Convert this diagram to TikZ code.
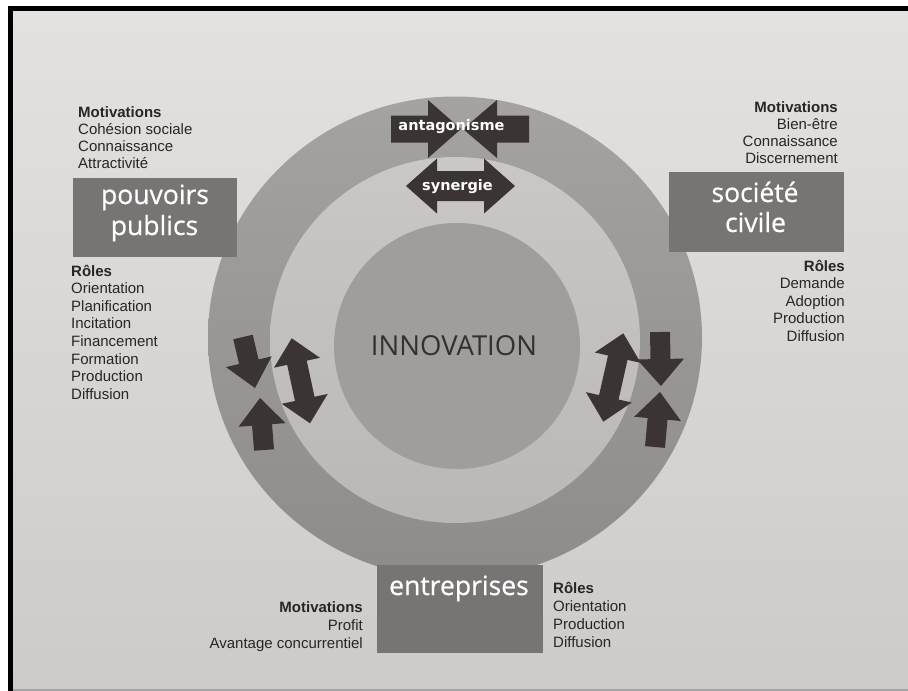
\documentclass[tikz,border=0pt]{standalone}
\usepackage{fontspec}
\setmainfont{Liberation Sans}
\newfontfamily\boxfont[FakeBold=0.6]{Open Sans}
\newfontfamily\innofont{Open Sans}
\newfontfamily\arrfont{DejaVu Sans}
\usetikzlibrary{calc}
\definecolor{bgtop}{HTML}{E4E2DF}
\definecolor{bgbot}{HTML}{CDCBC8}
\definecolor{ringout}{HTML}{A5A3A0}
\definecolor{ringoutb}{HTML}{8E8C89}
\definecolor{ringmid}{HTML}{CAC8C5}
\definecolor{ringmidb}{HTML}{BAB8B5}
\definecolor{corec}{HTML}{A09E9B}
\definecolor{boxc}{HTML}{777573}
\definecolor{arrc}{HTML}{3A3533}
\definecolor{txtc}{HTML}{262626}
\newcommand\oneArr[5]{% tail, tip, shaft half, head half, head length
  \path ($(#2)!#5!(#1)$) coordinate (tmpB);
  \fill[arrc] ($(#1)!#3!90:(#2)$) -- ($(tmpB)!#3!90:(#2)$) -- ($(tmpB)!#4!90:(#2)$) -- (#2)
    -- ($(tmpB)!#4!-90:(#2)$) -- ($(tmpB)!#3!-90:(#2)$) -- ($(#1)!#3!-90:(#2)$) -- cycle;}
\newcommand\twoArr[5]{% end1, end2, shaft half, head half, head length
  \path ($(#1)!#5!(#2)$) coordinate (tmpA) ($(#2)!#5!(#1)$) coordinate (tmpB);
  \fill[arrc] (#1) -- ($(tmpA)!#4!90:(#2)$) -- ($(tmpA)!#3!90:(#2)$) -- ($(tmpB)!#3!90:(#2)$)
    -- ($(tmpB)!#4!90:(#2)$) -- (#2) -- ($(tmpB)!#4!-90:(#2)$) -- ($(tmpB)!#3!-90:(#2)$)
    -- ($(tmpA)!#3!-90:(#2)$) -- ($(tmpA)!#4!-90:(#2)$) -- cycle;}
\tikzset{
  lbl/.style={inner sep=0pt, text=txtc, font=\fontsize{15}{17}\selectfont},
  boxn/.style={fill=boxc, draw=none, inner sep=0pt},
  boxt/.style={inner sep=0pt, text=white, font=\boxfont\fontsize{26.5}{31}\selectfont},
  arrt/.style={inner sep=0pt, text=white, font=\arrfont\bfseries\fontsize{14.5}{17}\selectfont},
}
\begin{document}
\begin{tikzpicture}[x=1pt,y=-1pt]
\useasboundingbox (0,0) rectangle (908,691);
\fill[white] (0,0) rectangle (908,691);
\shade[top color=bgtop, bottom color=bgbot] (12,10) rectangle (908,689);
\fill[gray!70] (12,689) rectangle (908,691);
\draw[line width=5pt, black] (10.5,691) -- (10.5,8) -- (908,8);
% rings
\shade[top color=ringout, bottom color=ringoutb] (455,337.5) ellipse [x radius=247pt, y radius=241pt];
\shade[top color=ringmid, bottom color=ringmidb] (455,340) ellipse [x radius=185pt, y radius=183pt];
\fill[corec] (457,346) circle [radius=123pt];
\node[inner sep=0pt, text=txtc!95, font=\innofont\fontsize{27.5}{30}\selectfont, anchor=base] (innov) at (454,355) {INNOVATION};
% boxes
\node[boxn, minimum width=164, minimum height=79] (ppbox) at (155,217.5) {};
\node[boxt, anchor=base] (pp1) at (155,204) {pouvoirs};
\node[boxt, anchor=base] (pp2) at (154.5,235) {publics};
\node[boxn, minimum width=175, minimum height=80] (scbox) at (756.5,212) {};
\node[boxt, anchor=base] (sc1) at (755,202) {société};
\node[boxt, anchor=base] (sc2) at (755.5,232) {civile};
\node[boxn, minimum width=166, minimum height=88] (enbox) at (460,609) {};
\node[boxt, anchor=base] (en1) at (459,595) {entreprises};
% top arrows
\coordinate (agL) at (391,129);
\coordinate (agLt) at (461,129);
\coordinate (agR) at (529,129);
\coordinate (agRt) at (463,129);
\oneArr{agL}{agLt}{13.5pt}{29pt}{33pt}
\oneArr{agR}{agRt}{13.5pt}{29pt}{34pt}
\node[arrt] (antag) at (451.5,127) {antagonisme};
\coordinate (syA) at (406,186);
\coordinate (syB) at (515,186);
\twoArr{syA}{syB}{15pt}{27.5pt}{31pt}
\node[arrt] (syn) at (457.5,187) {synergie};
% left arrows
\coordinate (a1t) at (243,337); \coordinate (a1h) at (255,388);
\coordinate (a2t) at (264,450); \coordinate (a2h) at (260,398);
\coordinate (a3a) at (291.7,338.3); \coordinate (a3b) at (310,423.3);
\oneArr{a1t}{a1h}{10pt}{23.5pt}{27pt}
\oneArr{a2t}{a2h}{10pt}{23.5pt}{27pt}
\twoArr{a3a}{a3b}{10pt}{23.5pt}{25pt}
% right arrows
\coordinate (b1a) at (623.3,333.3); \coordinate (b1b) at (603.3,421.7);
\coordinate (b2t) at (660,332); \coordinate (b2h) at (661,386);
\coordinate (b3t) at (655,447); \coordinate (b3h) at (660,392);
\twoArr{b1a}{b1b}{10pt}{23.5pt}{25pt}
\oneArr{b2t}{b2h}{10pt}{23.5pt}{27pt}
\oneArr{b3t}{b3h}{10pt}{23.5pt}{27pt}
% text blocks
\foreach \t [count=\i] in {\textbf{Motivations}, Cohésion sociale, Connaissance, Attractivité}
  \node[lbl, anchor=base west] (plm\i) at (78,{117+17*(\i-1)}) {\t};
\foreach \t [count=\i] in {\textbf{Rôles}, Orientation, Planification, Incitation, Financement, Formation, Production, Diffusion}
  \node[lbl, anchor=base west] (plr\i) at (71,{276+17.6*(\i-1)}) {\t};
\foreach \t [count=\i] in {\textbf{Motivations}, Bien-être, Connaissance, Discernement}
  \node[lbl, anchor=base east] (scm\i) at (838,{112+17*(\i-1)}) {\t};
\foreach \t [count=\i] in {\textbf{Rôles}, Demande, Adoption, Production, Diffusion}
  \node[lbl, anchor=base east] (scr\i) at (845,{271+17.5*(\i-1)}) {\t};
\foreach \t [count=\i] in {\textbf{Motivations}, Profit, Avantage concurrentiel}
  \node[lbl, anchor=base east] (enm\i) at (363,{612+18*(\i-1)}) {\t};
\foreach \t [count=\i] in {\textbf{Rôles}, Orientation, Production, Diffusion}
  \node[lbl, anchor=base west] (enr\i) at (553,{593+18.3*(\i-1)}) {\t};
\end{tikzpicture}
\end{document}
